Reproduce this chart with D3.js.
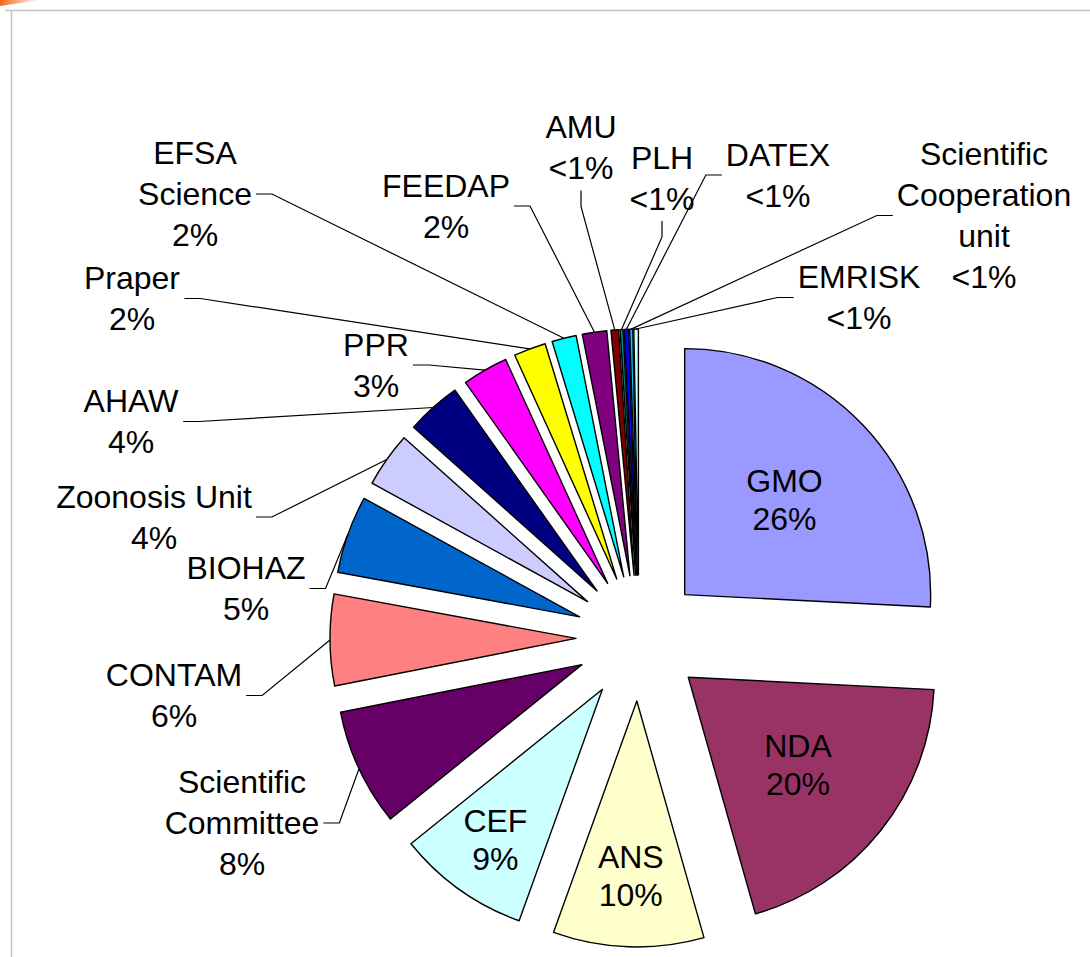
<!DOCTYPE html>
<html>
<head>
<meta charset="utf-8">
<script src="https://cdn.jsdelivr.net/npm/d3@7"></script>
<style>
html,body{margin:0;padding:0;background:#fff;}
svg{display:block;}
</style>
</head>
<body>
<svg id="chart" width="1090" height="957"></svg>
<script>
// ---- data ----
const categories = ["GMO","NDA","ANS","CEF","Scientific Committee","CONTAM","BIOHAZ","Zoonosis Unit","AHAW","PPR","Praper","EFSA Science","FEEDAP","AMU","PLH","DATEX","Scientific Cooperation unit","EMRISK"];
const shares = [25.8,19.8,9.9,8.7,7.7,6.0,5.1,3.6,3.6,3.0,2.1,1.6,1.6,0.5,0.2,0.3,0.2,0.3];
const labelLines = [["GMO"],["NDA"],["ANS"],["CEF"],["Scientific","Committee"],["CONTAM"],["BIOHAZ"],["Zoonosis Unit"],["AHAW"],["PPR"],["Praper"],["EFSA","Science"],["FEEDAP"],["AMU"],["PLH"],["DATEX"],["Scientific","Cooperation","unit"],["EMRISK"]];

// ---- styles ----
const sliceColors = ["#9999FF","#993366","#FFFFCC","#CCFFFF","#660066","#FF8080","#0066CC","#CCCCFF","#000080","#FF00FF","#FFFF00","#00FFFF","#800080","#800000","#008080","#0000FF","#00CCFF","#CCFFFF"];

// ---- layout (manual label placement, like dragged Excel labels) ----
const labelLayout = {
  "GMO": {inside:true, k:0.56},
  "NDA": {inside:true, k:0.57},
  "ANS": {inside:true, k:0.71},
  "CEF": {inside:true, k:0.75},
  "Scientific Committee": {x:242, y:823, side:"right"},
  "CONTAM": {x:174, y:695.5, side:"right"},
  "BIOHAZ": {x:246, y:588.5, side:"right"},
  "Zoonosis Unit": {x:154, y:517, side:"right"},
  "AHAW": {x:131, y:421.5, side:"right"},
  "PPR": {x:376, y:365, side:"right"},
  "Praper": {x:132, y:298.5, side:"right"},
  "EFSA Science": {x:195, y:194, side:"right"},
  "FEEDAP": {x:446, y:206, side:"right"},
  "AMU": {x:581, y:147.5, side:"bottom"},
  "PLH": {x:662, y:178, side:"bottom"},
  "DATEX": {x:778, y:175, side:"left"},
  "Scientific Cooperation unit": {x:984, y:215.5, side:"left"},
  "EMRISK": {x:859, y:297.5, side:"left"}
};

const W = 1090, H = 957;
const cx = 639, cy = 638;      // pie centre
const R = 246;                 // radius
const explode = 63;            // explosion offset
const fontSize = 32;
const outerLH = 41, innerLH = 38;

const svg = d3.select("#chart");

// frame decoration
const defs = svg.append("defs");
const grad = defs.append("linearGradient").attr("id","sw").attr("x1","0").attr("x2","1").attr("y1","0").attr("y2","0");
grad.append("stop").attr("offset","0").attr("stop-color","#f26a1b");
grad.append("stop").attr("offset","1").attr("stop-color","#f26a1b").attr("stop-opacity","0");
svg.append("path").attr("d","M0,0 L40,0 Q20,3 0,6 Z").attr("fill","url(#sw)");
svg.append("line").attr("x1",5).attr("x2",W).attr("y1",10.5).attr("y2",10.5).attr("stroke","#c4c4c4").attr("stroke-width",1.5);
svg.append("line").attr("x1",11.5).attr("x2",11.5).attr("y1",10).attr("y2",H).attr("stroke","#c4c4c4").attr("stroke-width",1.5);

const total = d3.sum(shares);
const data = categories.map((c,i)=>({name:c, value:shares[i], color:sliceColors[i], lines:labelLines[i]}));

const pie = d3.pie().sort(null).value(d=>d.value).startAngle(0).endAngle(2*Math.PI);
const arcs = pie(data);
const arcGen = d3.arc().innerRadius(0).outerRadius(R);

const unit = a => [Math.sin(a), -Math.cos(a)];

arcs.forEach(a=>{
  a.mid = (a.startAngle + a.endAngle)/2;
  const u = unit(a.mid);
  a.apex = [cx + explode*u[0], cy + explode*u[1]];
  a.outer = [a.apex[0] + R*u[0], a.apex[1] + R*u[1]];
});

const gSlices = svg.append("g");
gSlices.selectAll("path").data(arcs).join("path")
  .attr("transform", d=>`translate(${d.apex[0]},${d.apex[1]})`)
  .attr("d", arcGen)
  .attr("fill", d=>d.data.color)
  .attr("stroke","#000")
  .attr("stroke-width",1.4)
  .attr("stroke-linejoin","round");

const pct = v => { const p = v/total*100; return p < 1 ? "<1%" : Math.round(p) + "%"; };

const gLabels = svg.append("g")
  .attr("font-family","'Liberation Sans', Arial, sans-serif")
  .attr("font-size", fontSize)
  .attr("fill","#000")
  .attr("text-anchor","middle");
const gLeaders = svg.append("g").attr("fill","none").attr("stroke","#000").attr("stroke-width",1.2);

arcs.forEach(a=>{
  const L = labelLayout[a.data.name];
  const lines = a.data.lines.concat([pct(a.data.value)]);
  let bx, by, lh;
  if (L.inside) {
    const u = unit(a.mid);
    bx = a.apex[0] + L.k*R*u[0];
    by = a.apex[1] + L.k*R*u[1];
    lh = innerLH;
  } else {
    bx = L.x; by = L.y; lh = outerLH;
  }
  const g = gLabels.append("g");
  const n = lines.length;
  lines.forEach((t,i)=>{
    const yc = by + (i - (n-1)/2)*lh;
    g.append("text").attr("x",bx).attr("y", yc + 0.358*fontSize).text(t);
  });
  if (!L.inside) {
    const bb = g.node().getBBox();
    const pad = 4, seg = 16;
    let p0, p1;
    if (L.side === "right") {
      p0 = [bb.x + bb.width + pad, by]; p1 = [p0[0] + seg, by];
    } else if (L.side === "left") {
      p0 = [bb.x - pad, by]; p1 = [p0[0] - seg, by];
    } else {
      p0 = [bx, bb.y + bb.height + pad]; p1 = [bx, p0[1] + seg];
    }
    gLeaders.append("path").attr("d", d3.line()([p0, p1, a.outer]));
  }
});
</script>
</body>
</html>
